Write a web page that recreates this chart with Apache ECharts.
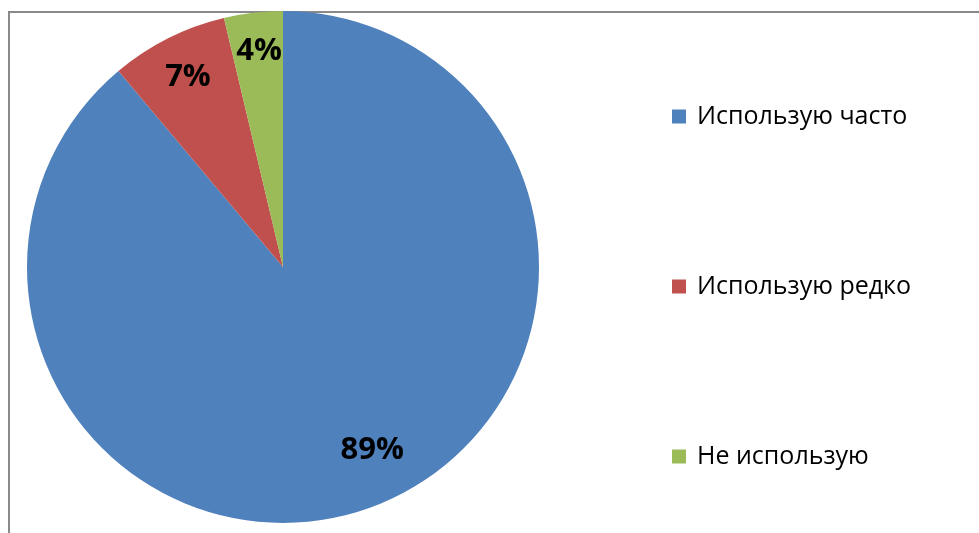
<!DOCTYPE html>
<html>
<head>
<meta charset="utf-8">
<script src="https://cdn.jsdelivr.net/npm/echarts@6/dist/echarts.min.js"></script>
<style>html,body{margin:0;padding:0;background:#fff;}#c{width:979px;height:533px;}</style>
</head>
<body>
<div id="c"></div>
<script>
const categories = ['Использую часто', 'Использую редко', 'Не использую'];
const values = [24, 2, 1];
const colors = ['#4F81BD', '#C0504D', '#9BBB59'];

const chart = echarts.init(document.getElementById('c'), null, {renderer: 'canvas'});
const data = categories.map((n, i) => ({name: n, value: values[i], itemStyle: {color: colors[i]}}));
const labelOffsets = [[16, -18], [1, 1], [1, -3]];
const FONT = '"Open Sans", sans-serif';
chart.setOption({
  animation: false,
  backgroundColor: '#fff',
  graphic: [{
    type: 'rect', z: 0,
    shape: {x: 9, y: 12, width: 1000, height: 600},
    style: {fill: 'none', stroke: '#898989', lineWidth: 2}
  }],
  legend: {
    orient: 'vertical', left: 672, top: 104, padding: 0,
    itemWidth: 14, itemHeight: 14, itemGap: 145,
    icon: 'rect',
    textStyle: {fontFamily: FONT, fontSize: 25, color: '#000', padding: [0, 0, 0, 6]},
    data: categories
  },
  series: [{
    type: 'pie', z: 2,
    center: [283, 267], radius: [0, 256],
    startAngle: 90, clockwise: true,
    label: {show: false}, labelLine: {show: false},
    emphasis: {disabled: true},
    data: data
  }, {
    type: 'pie', z: 3, silent: true,
    center: [283, 267], radius: [166, 256],
    startAngle: 90, clockwise: true,
    itemStyle: {color: 'rgba(0,0,0,0)'},
    label: {
      show: true, position: 'inside',
      fontFamily: FONT, fontWeight: 'bold', fontSize: 31, color: '#000',
      formatter: p => Math.round(p.percent) + '%'
    },
    labelLine: {show: false},
    emphasis: {disabled: true},
    legendHoverLink: false,
    data: categories.map((n, i) => ({name: n, value: values[i], label: {offset: labelOffsets[i]}}))
  }]
});
</script>
</body>
</html>
